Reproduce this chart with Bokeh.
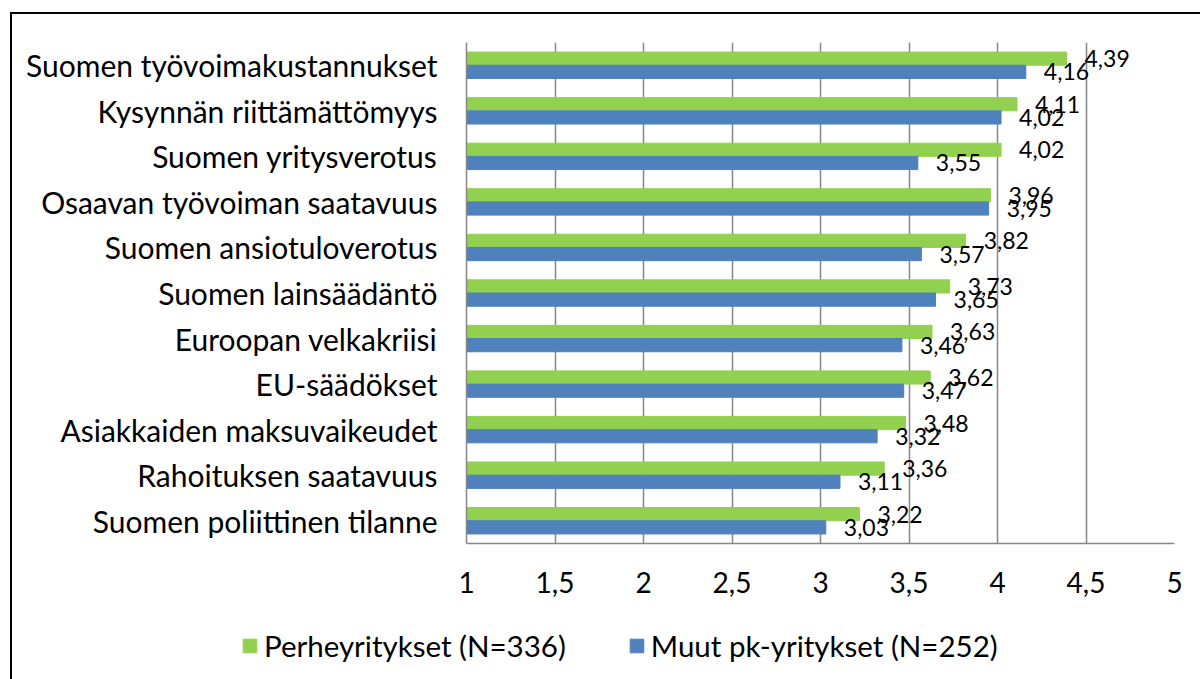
from bokeh.plotting import figure
from bokeh.layouts import column, row
from bokeh.models import FactorRange, Range1d, FixedTicker, Legend, LegendItem, ColumnDataSource
from bokeh.transform import dodge
from bokeh.core.properties import value
from bokeh.embed import file_html
from bokeh.resources import INLINE

categories = [
    "Suomen työvoimakustannukset",
    "Kysynnän riittämättömyys",
    "Suomen yritysverotus",
    "Osaavan työvoiman saatavuus",
    "Suomen ansiotuloverotus",
    "Suomen lainsäädäntö",
    "Euroopan velkakriisi",
    "EU-säädökset",
    "Asiakkaiden maksuvaikeudet",
    "Rahoituksen saatavuus",
    "Suomen poliittinen tilanne",
]
perhe = [4.39, 4.11, 4.02, 3.96, 3.82, 3.73, 3.63, 3.62, 3.48, 3.36, 3.22]
muut = [4.16, 4.02, 3.55, 3.95, 3.57, 3.65, 3.46, 3.47, 3.32, 3.11, 3.03]
series_names = ["Perheyritykset (N=336)", "Muut pk-yritykset (N=252)"]
xticks = [1, 1.5, 2, 2.5, 3, 3.5, 4, 4.5, 5]
xtick_labels = ["1", "1,5", "2", "2,5", "3", "3,5", "4", "4,5", "5"]

FONT = "Lato"
GREEN = "#92D050"
BLUE = "#4F81BD"
GRID = "#878787"

src = ColumnDataSource(dict(
    cat=categories,
    perhe=perhe,
    muut=muut,
    perhe_lbl=[f"{v:.2f}".replace(".", ",") for v in perhe],
    muut_lbl=[f"{v:.2f}".replace(".", ",") for v in muut],
))

W = 1188
H1, H2 = 599, 66
p = figure(
    width=W, height=H1,
    y_range=FactorRange(factors=list(reversed(categories))),
    x_range=Range1d(xticks[0], xticks[-1]),
    output_backend="svg", toolbar_location=None,
    min_border_left=454, min_border_top=28, min_border_right=26, min_border_bottom=70,
)
p.outline_line_color = None

BH = 0.29
r1 = p.hbar(y=dodge("cat", BH / 2, range=p.y_range), left=xticks[0], right="perhe",
            height=BH, color=GREEN, source=src)
r2 = p.hbar(y=dodge("cat", -BH / 2, range=p.y_range), left=xticks[0], right="muut",
            height=BH, color=BLUE, source=src)

p.text(x="perhe", y=dodge("cat", BH / 2, range=p.y_range), text="perhe_lbl", source=src,
       x_offset=18, text_align="left", text_baseline="middle",
       text_font=value(FONT), text_font_size="23px", text_color="#000")
p.text(x="muut", y=dodge("cat", -BH / 2, range=p.y_range), text="muut_lbl", source=src,
       x_offset=18, text_align="left", text_baseline="middle",
       text_font=value(FONT), text_font_size="23px", text_color="#000")

p.xgrid.ticker = FixedTicker(ticks=xticks)
p.xgrid.grid_line_color = GRID
p.xgrid.grid_line_width = 1.5
p.ygrid.grid_line_color = None

p.xaxis.ticker = FixedTicker(ticks=xticks)
p.xaxis.major_label_overrides = dict(zip(xticks, xtick_labels))
p.xaxis.axis_line_color = GRID
p.xaxis.axis_line_width = 1.5
p.xaxis.major_tick_line_color = None
p.xaxis.minor_tick_line_color = None
p.xaxis.major_tick_out = 0
p.xaxis.major_tick_in = 0
p.xaxis.major_label_standoff = 28
p.xaxis.major_label_text_font = FONT
p.xaxis.major_label_text_font_size = "28px"
p.xaxis.major_label_text_color = "#000"

p.yaxis.axis_line_color = GRID
p.yaxis.axis_line_width = 1.5
p.yaxis.major_tick_line_color = None
p.yaxis.minor_tick_line_color = None
p.yaxis.major_tick_out = 0
p.yaxis.major_tick_in = 0
p.yaxis.major_label_standoff = 29
p.yaxis.major_label_text_font = FONT
p.yaxis.major_label_text_font_size = "30px"
p.yaxis.major_label_text_color = "#000"

# legend strip (its own small figure below the chart)
p2 = figure(
    width=W, height=H2, x_range=Range1d(0, 1), y_range=Range1d(0, 1),
    output_backend="svg", toolbar_location=None,
    x_axis_location=None, y_axis_location=None,
    min_border=0, min_border_left=0, min_border_right=0, min_border_top=0, min_border_bottom=0,
)
p2.outline_line_color = None
p2.xgrid.visible = False
p2.ygrid.visible = False
# legend keys only: placed outside the visible range of the strip
l1 = p2.hbar(y=[5], left=[5], right=[6], height=0.1, color=GREEN)
l2 = p2.hbar(y=[5], left=[5], right=[6], height=0.1, color=BLUE)
legend = Legend(
    items=[LegendItem(label=series_names[0], renderers=[l1]),
           LegendItem(label=series_names[1], renderers=[l2])],
    orientation="horizontal", location=(229, 16),
    glyph_width=17, glyph_height=17, label_standoff=6, spacing=62,
    padding=0, margin=0, border_line_color=None, background_fill_alpha=0,
    label_text_font=FONT, label_text_font_size="29.5px", label_text_color="#000",
)
p2.add_layout(legend, "center")

layout = column(p, row(p2), spacing=0)
layout.margin = (12, 0, 0, 10)
layout.styles = {"border-left": "2px solid #000", "border-top": "2px solid #000"}

open("out.html", "w").write(file_html(layout, INLINE))
